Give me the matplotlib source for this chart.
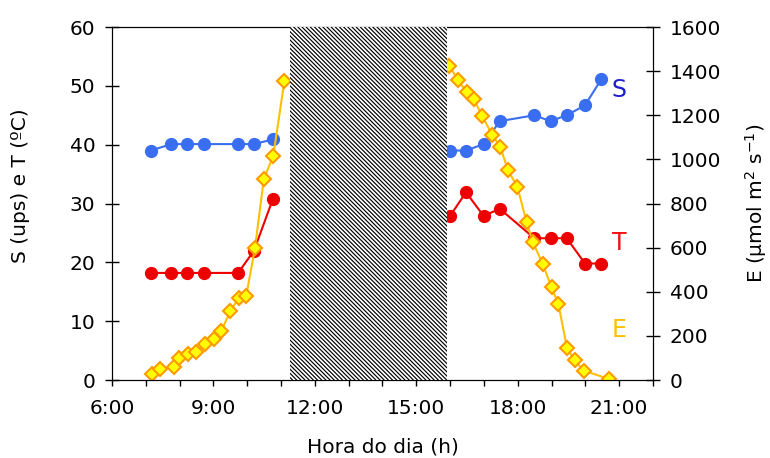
import numpy as np
import matplotlib
matplotlib.use("Agg")
import matplotlib.pyplot as plt
from matplotlib.ticker import MultipleLocator, FuncFormatter

plt.rcParams["font.family"] = ["DejaVu Sans"]
plt.rcParams["mathtext.default"] = "regular"
plt.rcParams["hatch.linewidth"] = 0.85

# hours of the day (decimal) for S and T
hora_st = [7.15, 7.75, 8.23, 8.72, 9.73, 10.2, 10.76,
           16.0, 16.47, 16.99, 17.47, 18.49, 18.97, 19.45, 19.99, 20.47]
salinidade = [39.0, 40.1, 40.1, 40.1, 40.1, 40.1, 40.9,
              39.0, 39.0, 40.1, 44.0, 45.0, 44.0, 45.0, 46.7, 51.1]
temperatura = [18.2, 18.2, 18.2, 18.2, 18.2, 22.0, 30.8,
               27.9, 31.9, 27.9, 29.1, 24.1, 24.1, 24.1, 19.8, 19.8]

# irradiance E
hora_e = [7.18, 7.43, 7.82, 7.98, 8.25, 8.48, 8.75, 9.03, 9.23, 9.5, 9.76, 9.97,
          10.23, 10.49, 10.77, 11.1,
          15.98, 16.23, 16.5, 16.7, 16.95, 17.24, 17.49, 17.71, 17.99, 18.26,
          18.45, 18.74, 19.0, 19.2, 19.46, 19.68, 19.96, 20.71]
irradiancia = [26, 51, 60, 98, 119, 126, 163, 184, 221, 314, 373, 382,
               600, 911, 1017, 1357,
               1425, 1359, 1304, 1272, 1197, 1112, 1055, 951, 876, 716,
               624, 526, 420, 345, 144, 89, 42, 4]

# period without measurements
periodo_sem = (11.25, 15.9)

hora_st = np.array(hora_st)
hora_e = np.array(hora_e)
salinidade = np.array(salinidade)
temperatura = np.array(temperatura)
irradiancia = np.array(irradiancia)

fig = plt.figure(figsize=(7.7, 4.58), dpi=100)
ax1 = fig.add_axes([0.1455, 0.1703, 0.7025, 0.7707])
ax2 = ax1.twinx()

# morning and afternoon drawn separately
for manha in (True, False):
    m_st = (hora_st < periodo_sem[0]) if manha else (hora_st > periodo_sem[0])
    m_e = (hora_e < periodo_sem[0]) if manha else (hora_e > periodo_sem[0])
    ax1.plot(hora_st[m_st], salinidade[m_st], "-o", color="#3a6ef0", lw=1.5, ms=8.5)
    ax1.plot(hora_st[m_st], temperatura[m_st], "-o", color="#ee0000", lw=1.5, ms=8.5)
    ax2.plot(hora_e[m_e], irradiancia[m_e], "-D", color="#ffc000", lw=1.5, ms=7,
             markerfacecolor="#ffff00", markeredgecolor="#ff9900", markeredgewidth=1.5)

ax2.axvspan(periodo_sem[0], periodo_sem[1], facecolor="white", edgecolor="black",
            hatch="\\\\\\\\\\\\\\\\", linewidth=0, zorder=10)

ax1.set_xlim(6, 22)
ax1.set_ylim(0, 60)
ax2.set_ylim(0, 1600)

ax1.xaxis.set_major_locator(MultipleLocator(3))
ax1.xaxis.set_minor_locator(MultipleLocator(1))
ax1.xaxis.set_major_formatter(FuncFormatter(lambda v, p: f"{int(v)}:00"))
ax1.yaxis.set_major_locator(MultipleLocator(10))
ax2.yaxis.set_major_locator(MultipleLocator(200))

fs = 14.5
ax1.tick_params(axis="y", direction="inout", length=10, width=1, pad=7, labelsize=fs)
ax2.tick_params(axis="y", direction="inout", length=10, width=1, pad=7, labelsize=fs)
ax1.tick_params(axis="x", which="both", direction="out", length=4.5, width=1, pad=9, labelsize=fs)

ax1.set_xlabel("Hora do dia (h)", fontsize=fs, labelpad=14)
ax1.set_ylabel("S (ups) e T (ºC)", fontsize=fs)
ax2.set_ylabel("E (µmol m$^{2}$ s$^{-1}$)", fontsize=fs)
ax1.yaxis.set_label_coords(-0.152, 0.55)
ax2.yaxis.set_label_coords(1.166, 0.5)

ax1.text(21.0, 49.3, "S", color="#1f1fd0", fontsize=17, va="center", ha="center")
ax1.text(21.0, 23.3, "T", color="#ee1111", fontsize=17, va="center", ha="center")
ax1.text(21.0, 8.5, "E", color="#ffc000", fontsize=17, va="center", ha="center")

fig.savefig("out.png", dpi=100)
